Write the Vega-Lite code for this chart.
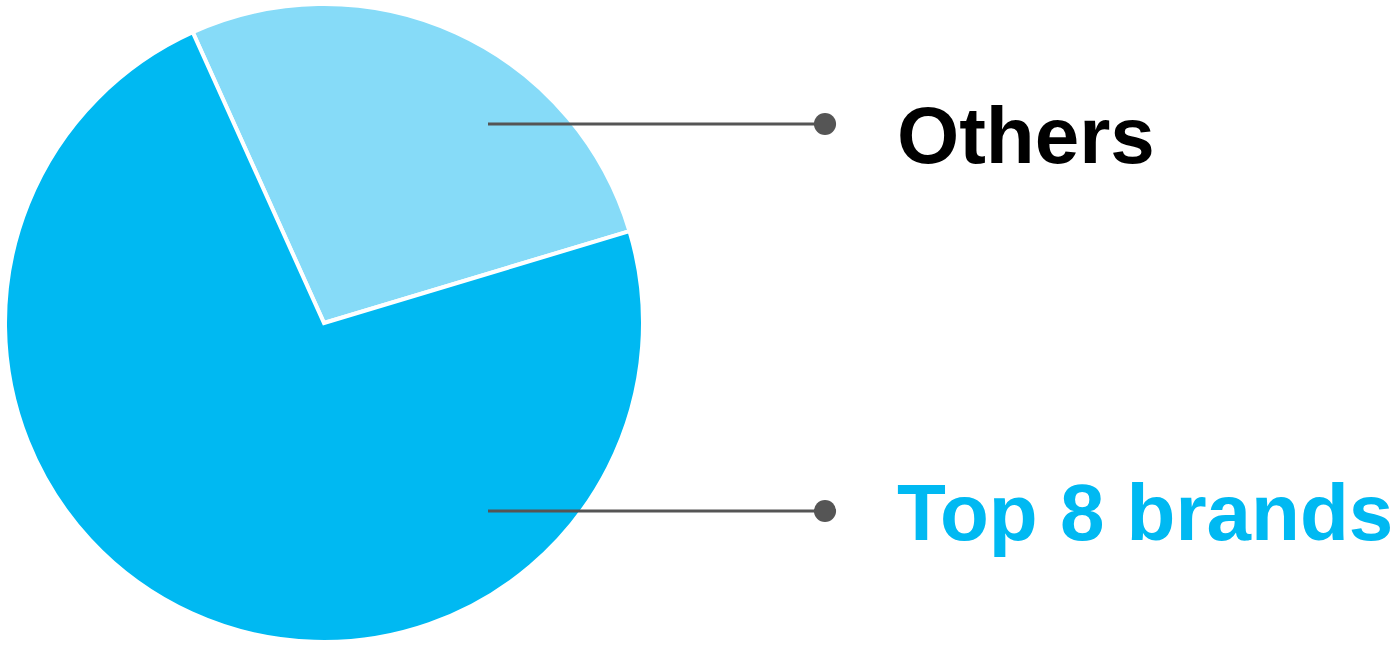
{
  "$schema": "https://vega.github.io/schema/vega-lite/v6.json",
  "width": 1395,
  "height": 646,
  "padding": 0,
  "autosize": "none",
  "config": {"view": {"stroke": null}},
  "datasets": {
    "slices": [
      {"category": "Others", "value": 27.1, "cx": 324, "cy": 323},
      {"category": "Top 8 brands", "value": 72.9, "cx": 324, "cy": 323}
    ],
    "labels": [
      {"category": "Others", "x1": 488, "x2": 825, "y": 124, "tx": 897, "ty": 163},
      {"category": "Top 8 brands", "x1": 488, "x2": 825, "y": 511, "tx": 897, "ty": 540}
    ]
  },
  "layer": [
    {
      "data": {"name": "slices"},
      "mark": {"type": "arc", "radius": 319, "stroke": "white", "strokeWidth": 4},
      "encoding": {
        "theta": {"field": "value", "type": "quantitative", "stack": true, "scale": {"range": [-0.4241, 5.8591]}},
        "color": {"field": "category", "type": "nominal", "scale": {"domain": ["Others", "Top 8 brands"], "range": ["#86DBF8", "#00B9F2"]}, "legend": null},
        "order": {"field": "category", "sort": "ascending"},
        "x": {"field": "cx", "type": "quantitative", "scale": {"domain": [0, 1395], "nice": false, "zero": false}, "axis": null},
        "y": {"field": "cy", "type": "quantitative", "scale": {"domain": [0, 646], "nice": false, "zero": false, "reverse": true}, "axis": null}
      }
    },
    {
      "data": {"name": "labels"},
      "mark": {"type": "rule", "color": "#555555", "strokeWidth": 3},
      "encoding": {
        "x": {"field": "x1", "type": "quantitative", "scale": {"domain": [0, 1395], "nice": false, "zero": false}, "axis": null},
        "x2": {"field": "x2"},
        "y": {"field": "y", "type": "quantitative", "scale": {"domain": [0, 646], "nice": false, "zero": false, "reverse": true}, "axis": null}
      }
    },
    {
      "data": {"name": "labels"},
      "mark": {"type": "circle", "color": "#555555", "opacity": 1, "size": 490},
      "encoding": {
        "x": {"field": "x2", "type": "quantitative", "scale": {"domain": [0, 1395], "nice": false, "zero": false}, "axis": null},
        "y": {"field": "y", "type": "quantitative", "scale": {"domain": [0, 646], "nice": false, "zero": false, "reverse": true}, "axis": null}
      }
    },
    {
      "data": {"name": "labels"},
      "mark": {"type": "text", "font": "Liberation Sans", "fontWeight": "bold", "fontSize": 80, "align": "left", "baseline": "alphabetic"},
      "encoding": {
        "x": {"field": "tx", "type": "quantitative", "scale": {"domain": [0, 1395], "nice": false, "zero": false}, "axis": null},
        "y": {"field": "ty", "type": "quantitative", "scale": {"domain": [0, 646], "nice": false, "zero": false, "reverse": true}, "axis": null},
        "text": {"field": "category"},
        "color": {"condition": {"test": "datum.category === 'Others'", "value": "#000000"}, "value": "#00B9F2"}
      }
    }
  ]
}
